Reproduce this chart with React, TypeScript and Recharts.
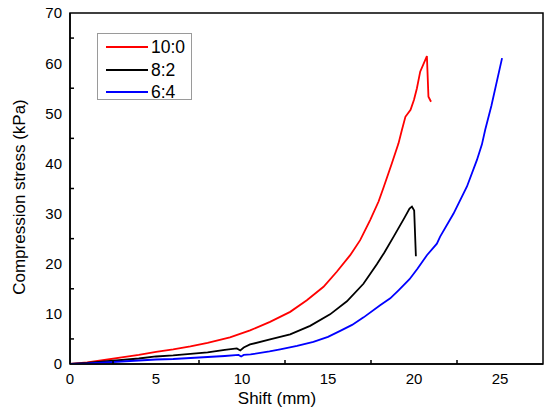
import { LineChart, Line, XAxis, YAxis, ReferenceArea, Legend, Label } from "recharts";

document.body.style.margin = "0";

const FONT = "Arial, 'Liberation Sans', sans-serif";

// shift (mm) / stress (kPa)
const red100 = [
  [0, 0], [1, 0.3], [2, 0.8], [3, 1.3], [4, 1.8], [5, 2.4], [6, 2.9], [7, 3.5],
  [8, 4.2], [9.3, 5.3], [10.47, 6.7], [11.63, 8.4], [12.8, 10.4], [13.77, 12.7],
  [14.74, 15.4], [15.51, 18.4], [16.29, 21.7], [16.87, 24.7], [17.45, 28.7],
  [17.94, 32.4], [18.23, 35.2], [18.71, 40.0], [19.1, 44.0], [19.3, 46.7], [19.5, 49.3],
  [19.8, 50.7], [20.0, 52.7], [20.17, 55.0], [20.36, 58.3], [20.75, 61.4], [20.84, 53.3],
  [20.99, 52.3],
];

const black82 = [
  [0, 0], [1, 0.2], [2, 0.5], [3, 0.8], [4, 1.1], [5, 1.5], [6, 1.7], [7, 2.0],
  [8, 2.3], [9, 2.8], [9.7, 3.1], [9.9, 2.7], [10.1, 3.3], [10.47, 3.9], [11.63, 4.9],
  [12.8, 5.9], [13.96, 7.6], [15.12, 9.9], [16.1, 12.5], [17.06, 16.0], [17.84, 19.9],
  [18.27, 22.2], [18.85, 25.6], [19.45, 29.2], [19.74, 31.0], [19.88, 31.4], [20.01, 30.6],
  [20.11, 21.5],
];

const blue64 = [
  [0, 0], [1, 0.1], [2, 0.3], [3, 0.5], [4, 0.7], [5, 0.9], [6, 1.0], [7, 1.2],
  [8, 1.4], [9, 1.6], [9.8, 1.8], [9.95, 1.5], [10.1, 1.8], [10.5, 1.9], [11.6, 2.5],
  [12.22, 2.9], [13.2, 3.6], [14.15, 4.4], [15.0, 5.4], [15.71, 6.6], [16.4, 7.8],
  [17.07, 9.3], [18.03, 11.7], [18.62, 13.1], [19.1, 14.7], [19.74, 16.9], [20.2, 19.0],
  [20.75, 21.7], [21.33, 24.0], [21.52, 25.4], [22.3, 30.0], [23.08, 35.4], [23.66, 40.7],
  [23.95, 43.8], [24.14, 46.7], [24.5, 51.5], [25.12, 61.0],
];

const xTicks = [0, 2.5, 5, 7.5, 10, 12.5, 15, 17.5, 20, 22.5, 25];
const yTicks = [0, 5, 10, 15, 20, 25, 30, 35, 40, 45, 50, 55, 60, 65, 70];

const series = [
  { name: "10:0", color: "#ff0000", pts: red100 },
  { name: "8:2", color: "#000000", pts: black82 },
  { name: "6:4", color: "#0000ff", pts: blue64 },
];

const toRows = (pts: number[][]) => pts.map(([x, y]) => ({ x, y }));

const XTick = (props: any) => {
  const { x, y, payload } = props;
  const v = payload.value;
  if (v % 5 !== 0) {
    return <line x1={x} x2={x} y1={y} y2={y - 4} stroke="#000" strokeWidth={1.5} />;
  }
  return (
    <text x={x} y={y + 20} textAnchor="middle" fontSize={15} fontFamily={FONT} fill="#000">
      {v}
    </text>
  );
};

const YTick = (props: any) => {
  const { x, y, payload } = props;
  const v = payload.value;
  if (v % 10 !== 0) {
    return <line x1={x} x2={x + 4} y1={y} y2={y} stroke="#000" strokeWidth={1.5} />;
  }
  return (
    <text x={x - 8} y={y} dy="0.36em" textAnchor="end" fontSize={15} fontFamily={FONT} fill="#000">
      {v}
    </text>
  );
};

const LegendBox = () => (
  <div
    style={{
      border: "1px solid #9a9a9a",
      width: 95,
      height: 67,
      boxSizing: "border-box",
      paddingTop: 2,
      background: "#fff",
      fontFamily: FONT,
    }}
  >
    {series.map((s) => (
      <div key={s.name} style={{ display: "flex", alignItems: "center", height: 22.5 }}>
        <svg width={50} height={4} style={{ display: "block" }}>
          <line x1={8} x2={50} y1={2} y2={2} stroke={s.color} strokeWidth={2} />
        </svg>
        <span style={{ marginLeft: 3, fontSize: 17.5, lineHeight: "22px", color: "#000" }}>{s.name}</span>
      </div>
    ))}
  </div>
);

export default function App() {
  return (
    <LineChart width={550} height={414} margin={{ top: 13, right: 7, left: 0, bottom: 0 }}>
      <XAxis
        type="number"
        dataKey="x"
        domain={[0, 27.5]}
        ticks={xTicks}
        tick={<XTick />}
        tickSize={0}
        tickMargin={0}
        interval={0}
        height={50}
        axisLine={{ stroke: "#000", strokeWidth: 1.5 }}
        allowDataOverflow
      >
        <Label
          content={(p: any) => (
            <text
              x={p.viewBox.x + 207}
              y={p.viewBox.y + 40}
              textAnchor="middle"
              fontSize={17}
              fontFamily={FONT}
              fill="#000"
            >
              Shift (mm)
            </text>
          )}
        />
      </XAxis>
      <YAxis
        type="number"
        dataKey="y"
        domain={[0, 70]}
        ticks={yTicks}
        tick={<YTick />}
        tickSize={0}
        tickMargin={0}
        interval={0}
        width={70}
        axisLine={{ stroke: "#000", strokeWidth: 1.5 }}
        allowDataOverflow
      >
        <Label
          content={() => (
            <text
              x={19}
              y={197}
              transform="rotate(-90 19 197)"
              textAnchor="middle"
              dominantBaseline="central"
              fontSize={17}
              fontFamily={FONT}
              fill="#000"
            >
              Compression stress (kPa)
            </text>
          )}
        />
      </YAxis>
      <ReferenceArea
        x1={0}
        x2={27.5}
        y1={0}
        y2={70}
        fill="none"
        stroke="#000"
        strokeWidth={1.5}
        ifOverflow="visible"
      />
      {series.map((s) => (
        <Line
          key={s.name}
          name={s.name}
          data={toRows(s.pts)}
          dataKey="y"
          type="linear"
          stroke={s.color}
          strokeWidth={1.8}
          dot={false}
          isAnimationActive={false}
        />
      ))}
      <Legend
        layout="vertical"
        align="center"
        verticalAlign="middle"
        content={<LegendBox />}
        wrapperStyle={{ left: 97, top: 33, width: 95 }}
      />
    </LineChart>
  );
}
